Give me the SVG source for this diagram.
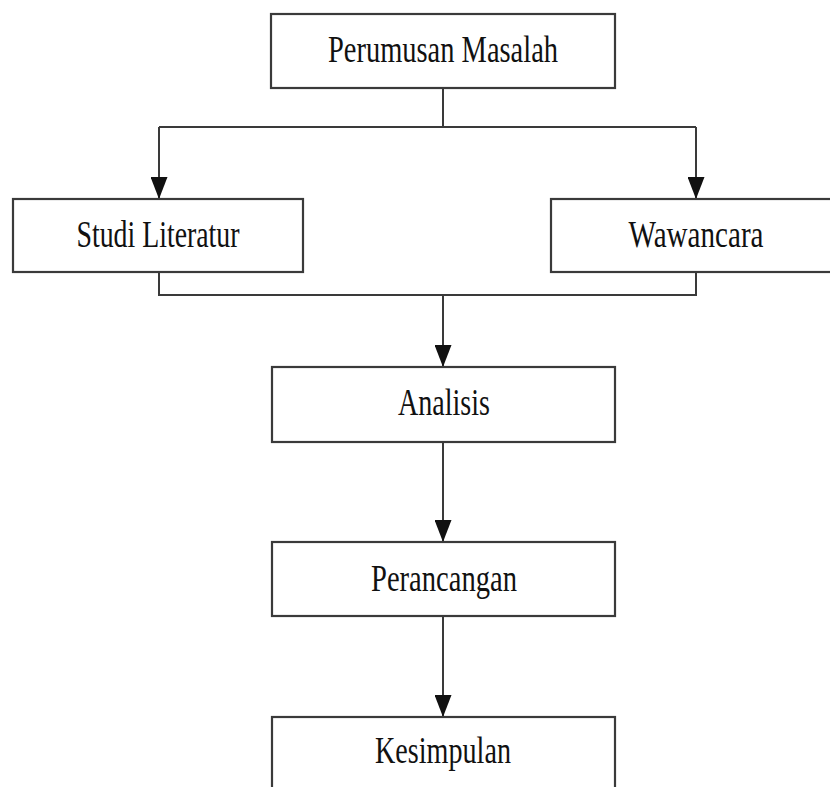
<svg xmlns="http://www.w3.org/2000/svg" width="830" height="787" viewBox="0 0 830 787">
<style>
.box{fill:#fff;stroke:#3a3a3a;stroke-width:2.2}
.lbl{font-family:"Liberation Serif","Times New Roman",serif;font-size:38px;fill:#111;text-anchor:middle}
.con{fill:none;stroke:#3a3a3a;stroke-width:2}
</style>
<defs>
<marker id="ah" markerWidth="22" markerHeight="17" refX="22" refY="8.5" orient="auto" markerUnits="userSpaceOnUse" viewBox="0 0 22 17">
<path d="M0,0 L22,8.5 L0,17 Z" fill="#111"/>
</marker>
</defs>
<g id="connectors">
<path class="con" d="M443,88 V127"/>
<path class="con" d="M159,127 H696"/>
<path class="con" d="M159,127 V199" marker-end="url(#ah)"/>
<path class="con" d="M696,127 V199" marker-end="url(#ah)"/>
<path class="con" d="M159,272 V295 H696 V272"/>
<path class="con" d="M443,295 V367" marker-end="url(#ah)"/>
<path class="con" d="M443,442 V542" marker-end="url(#ah)"/>
<path class="con" d="M443,616 V717" marker-end="url(#ah)"/>
</g>
<g id="perumusan">
<rect class="box" x="271" y="14" width="344" height="74"/>
<text class="lbl" x="443" y="62" textLength="230" lengthAdjust="spacingAndGlyphs">Perumusan Masalah</text>
</g>
<g id="studi">
<rect class="box" x="13" y="199" width="290" height="73"/>
<text class="lbl" x="158" y="247" textLength="163" lengthAdjust="spacingAndGlyphs">Studi Literatur</text>
</g>
<g id="wawancara">
<rect class="box" x="551" y="199" width="300" height="73"/>
<text class="lbl" x="696" y="247" textLength="135" lengthAdjust="spacingAndGlyphs">Wawancara</text>
</g>
<g id="analisis">
<rect class="box" x="272" y="367" width="343" height="75"/>
<text class="lbl" x="444" y="415" textLength="92" lengthAdjust="spacingAndGlyphs">Analisis</text>
</g>
<g id="perancangan">
<rect class="box" x="272" y="542" width="343" height="74"/>
<text class="lbl" x="444" y="591" textLength="146" lengthAdjust="spacingAndGlyphs">Perancangan</text>
</g>
<g id="kesimpulan">
<rect class="box" x="272" y="717" width="343" height="90"/>
<text class="lbl" x="443" y="763" textLength="136" lengthAdjust="spacingAndGlyphs">Kesimpulan</text>
</g>
</svg>
